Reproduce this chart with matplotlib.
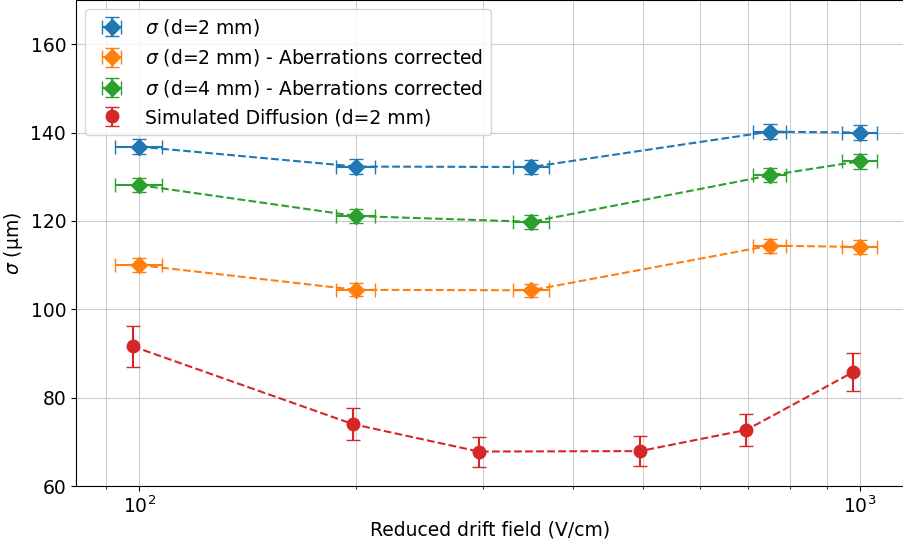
import matplotlib
matplotlib.use("Agg")
import matplotlib.pyplot as plt
import numpy as np

# Data
field = [100, 200, 350, 750, 1000]
field_err = [7.5, 12.5, 20, 40, 55]

sigma_d2 = [136.8, 132.3, 132.2, 140.2, 140.0]
sigma_d2_err = [1.7, 1.6, 1.6, 1.7, 1.7]

sigma_d2_corr = [110.0, 104.4, 104.3, 114.4, 114.1]
sigma_d2_corr_err = [1.6, 1.5, 1.5, 1.6, 1.6]

sigma_d4_corr = [128.1, 121.1, 119.8, 130.3, 133.5]
sigma_d4_corr_err = [1.6, 1.6, 1.6, 1.6, 1.7]

sim_field = [98, 198, 296, 495, 696, 977]
sim_diff = [91.6, 74.0, 67.8, 67.9, 72.7, 85.7]
sim_diff_err = [4.6, 3.7, 3.4, 3.4, 3.6, 4.3]

fig = plt.figure(figsize=(9.04, 5.4), dpi=100)
ax = fig.add_axes([0.084, 0.1, 0.917, 0.9])

series = [
    (field, sigma_d2, field_err, sigma_d2_err, '#1f77b4', 'D', 8, r'$\sigma$ (d=2 mm)'),
    (field, sigma_d2_corr, field_err, sigma_d2_corr_err, '#ff7f0e', 'D', 8,
     r'$\sigma$ (d=2 mm) - Aberrations corrected'),
    (field, sigma_d4_corr, field_err, sigma_d4_corr_err, '#2ca02c', 'D', 8,
     r'$\sigma$ (d=4 mm) - Aberrations corrected'),
    (sim_field, sim_diff, None, sim_diff_err, '#d62728', 'o', 9,
     'Simulated Diffusion (d=2 mm)'),
]

for x, y, xe, ye, c, m, ms, lab in series:
    ax.plot(x, y, '--', color=c, linewidth=1.5, zorder=2)
    ax.errorbar(x, y, xerr=xe, yerr=ye, fmt=m, linestyle='none',
                color=c, markersize=ms, capsize=5, elinewidth=1.5,
                label=lab, zorder=3)

ax.set_xscale('log')
ax.set_xlim(81.7, 1155)
ax.set_ylim(60, 170)
ax.grid(True, which='major', color='#cccccc', linewidth=0.8)
ax.grid(True, which='minor', axis='x', color='#cccccc', linewidth=0.8)
ax.tick_params(axis='both', which='major', labelsize=13.5)
ax.set_xlabel('Reduced drift field (V/cm)', fontsize=13.5, labelpad=2)
ax.set_ylabel(r'$\sigma$ (μm)', fontsize=13.5)
ax.legend(loc='upper left', fontsize=13.5)

fig.savefig('out.png', dpi=100)
